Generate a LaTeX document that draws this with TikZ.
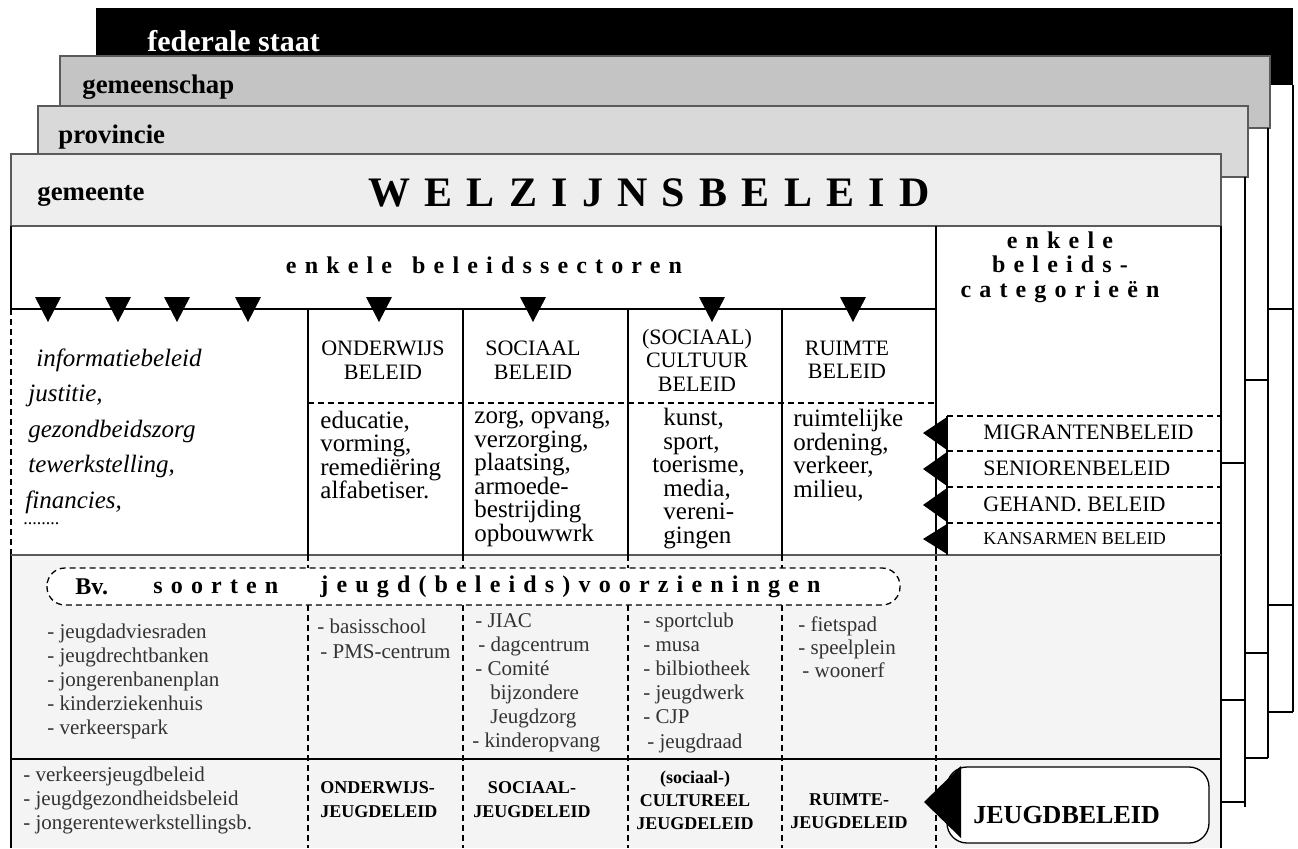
\documentclass[tikz,border=0pt]{standalone}
\usepackage{fontspec}
\setmainfont{Liberation Serif}
\newfontfamily\spatie{Liberation Serif}[LetterSpace=34]
\definecolor{randgrijs}{HTML}{5A5A5A}
\definecolor{gemeenschapgrijs}{HTML}{C4C4C4}
\definecolor{provinciegrijs}{HTML}{D9D9D9}
\definecolor{gemeentegrijs}{HTML}{EEEEEE}
\definecolor{vlakgrijs}{HTML}{F4F4F4}
\definecolor{lijstgrijs}{HTML}{333333}

\begin{document}
\begin{tikzpicture}[x=0.5pt,y=-0.5pt,
		lijn/.style={line width=0.65pt},
		streep/.style={line width=0.65pt,dash pattern=on 3pt off 2pt},
		laag/.style={draw=randgrijs,line width=0.8pt},
		naam/.style={anchor=west,inner sep=0pt,font=\bfseries\fontsize{13.4}{14}\selectfont},
		kop/.style={font=\fontsize{11}{11.75}\selectfont,align=center,inner sep=0pt},
		lijst/.style={font=\fontsize{12.5}{11.75}\selectfont,align=left,anchor=west,inner sep=0pt},
		jlijst/.style={font=\fontsize{10.5}{12}\selectfont,align=left,anchor=west,inner sep=0pt,text=lijstgrijs},
		vet/.style={font=\bfseries\fontsize{9}{12}\selectfont,inner sep=0pt},
		cat/.style={font=\fontsize{11}{12}\selectfont,anchor=west,inner sep=0pt}]
		
		% Vaste grootte van de tekening
		\useasboundingbox (0,0) rectangle (1298,848);
		
		% De lagen: federale staat, gemeenschap, provincie, gemeente
		\fill[black] (96,8) rectangle (1293,85);
		\draw[laag,fill=gemeenschapgrijs] (60,56) rectangle (1270,128);
		\draw[laag,fill=provinciegrijs] (38,106) rectangle (1248,177);
		\draw[laag,fill=gemeentegrijs] (11,154) rectangle (1221,226);
		
		% Achterliggende bladen rechts
		\draw[lijn] (1293,85) -- (1293,712);
		\draw[lijn] (1268,128) -- (1268,758);
		\draw[lijn] (1245,177) -- (1245,807);
		\draw[lijn] (1268,309) -- (1293,309);
		\draw[lijn] (1268,605) -- (1293,605);
		\draw[lijn] (1268,712) -- (1293,712);
		\draw[lijn] (1245,380) -- (1268,380);
		\draw[lijn] (1245,653) -- (1268,653);
		\draw[lijn] (1245,758) -- (1268,758);
		\draw[lijn] (1221,463) -- (1245,463);
		\draw[lijn] (1221,700) -- (1245,700);
		\draw[lijn] (1219,802) -- (1245,802);
		
		% Namen van de lagen
		\node[naam,text=white,font=\bfseries\fontsize{15}{15}\selectfont] (federaal) at (147,41) {federale staat};
		\node[naam] (gemeenschap) at (82,87) {gemeenschap};
		\node[naam] (provincie) at (58,137) {provincie};
		\node[naam] (gemeente) at (37,196) {gemeente};
		\node[font=\spatie\bfseries\fontsize{21}{21}\selectfont,inner sep=0pt] (welzijn) at (649,193) {WELZIJNSBELEID};
		
		% Vlakken van de tabel
		\fill[white] (11,227) rectangle (1221,555);
		\fill[vlakgrijs] (11,555) rectangle (1221,848);
		
		% Randen
		\draw[lijn] (11,226) -- (11,309);
		\draw[streep] (11,309) -- (11,555);
		\draw[lijn] (11,555) -- (11,848);
		\draw[lijn] (1221,226) -- (1221,848);
		\draw[lijn] (11,309) -- (936,309);
		\draw[lijn] (936,226) -- (936,555);
		\draw[streep] (936,555) -- (936,848);
		\draw[line width=0.9pt,draw=randgrijs] (11,555) -- (1221,555);
		\draw[lijn] (11,759) -- (1221,759);
		
		% Kolommen van de sectoren
		\draw[lijn] (308,309) -- (308,555);
		\draw[lijn] (463,309) -- (463,555);
		\draw[lijn] (628,309) -- (628,555);
		\draw[lijn] (782,309) -- (782,555);
		\draw[streep] (308,555) -- (308,848);
		\draw[streep] (463,555) -- (463,848);
		\draw[streep] (628,555) -- (628,848);
		\draw[streep] (782,555) -- (782,848);
		\draw[streep] (308,403) -- (936,403);
		
		% Rijen van de categorieen
		\draw[streep] (947,416) -- (1221,416);
		\draw[streep] (947,451) -- (1221,451);
		\draw[streep] (947,487) -- (1221,487);
		\draw[streep] (947,523) -- (1221,523);
		\draw[lijn] (947,416) -- (947,555);
		
		% Driehoeken naar beneden
		\fill (35,297) -- (61,297) -- (48,322) -- cycle;
		\fill (105,297) -- (131,297) -- (118,322) -- cycle;
		\fill (164,297) -- (190,297) -- (177,322) -- cycle;
		\fill (235,297) -- (261,297) -- (248,322) -- cycle;
		\fill (366,297) -- (392,297) -- (379,322) -- cycle;
		\fill (520,297) -- (546,297) -- (533,322) -- cycle;
		\fill (699,297) -- (725,297) -- (712,322) -- cycle;
		\fill (840,297) -- (866,297) -- (853,322) -- cycle;
		
		% Driehoeken naar links
		\fill (947,417) -- (923,433) -- (947,450) -- cycle;
		\fill (947,452) -- (923,469) -- (947,486) -- cycle;
		\fill (947,488) -- (923,505) -- (947,522) -- cycle;
		\fill (947,524) -- (923,539) -- (947,554) -- cycle;
		
		% Koppen
		\node[font=\spatie\bfseries\fontsize{12}{12}\selectfont,inner sep=0pt] (sectoren) at (484,265) {enkele\hspace{3pt} beleidssectoren};
		\node[font=\spatie\bfseries\fontsize{12}{12.25}\selectfont,align=center,inner sep=0pt] (categorieen) at (1060,267) {enkele\\beleids-\\categorieën};
		
		% Beleidssectoren
		\node[lijst,font=\itshape\fontsize{12.5}{17.75}\selectfont] (overig) at (28,431) {\hspace*{4pt}informatiebeleid\\justitie,\\gezondbeidszorg\\tewerkstelling,\\\hspace*{-1.5pt}financies,};
		\node[anchor=west,inner sep=0pt,font=\fontsize{9}{9}\selectfont] (puntjes) at (23,524) {........};
		\node[kop] (onderwijs) at (383,360) {ONDERWIJS\\BELEID};
		\node[kop] (sociaal) at (533,360) {SOCIAAL\\BELEID};
		\node[kop] (cultuur) at (697,360) {(SOCIAAL)\\CULTUUR\\BELEID};
		\node[kop] (ruimte) at (847,360) {RUIMTE\\BELEID};
		\node[lijst] (onderwijsinhoud) at (320,455) {educatie,\\vorming,\\remediëring\\alfabetiser.};
		\node[lijst] (sociaalinhoud) at (474,478.5) {zorg, opvang,\\verzorging,\\plaatsing,\\armoede-\\bestrijding\\opbouwwrk};
		\node[lijst] (cultuurinhoud) at (663,478.5) {kunst,\\sport,\\\hspace*{-5.5pt}toerisme,\\media,\\vereni-\\gingen};
		\node[lijst] (ruimteinhoud) at (793,455) {ruimtelijke\\ordening,\\verkeer,\\milieu,};
		
		% Beleidscategorieen
		\node[cat] (migranten) at (983,432) {MIGRANTENBELEID};
		\node[cat] (senioren) at (983,468) {SENIORENBELEID};
		\node[cat] (gehandicapten) at (983,504) {GEHAND. BELEID};
		\node[cat,font=\fontsize{9}{9}\selectfont] (kansarmen) at (983,539) {KANSARMEN BELEID};
		
		% Voorzieningen
		\draw[streep,fill=white,rounded corners=9pt] (47,568) rectangle (900,605);
		\node[anchor=west,inner sep=0pt,font=\bfseries\fontsize{12}{12}\selectfont] (bv) at (75,587) {Bv.};
		\node[anchor=west,inner sep=0pt,font=\spatie\bfseries\fontsize{12}{12}\selectfont] (soorten) at (153,587) {soorten};
		\node[anchor=west,inner sep=0pt,font=\spatie\bfseries\fontsize{12}{12}\selectfont] (voorzieningen) at (320,587) {jeugd(beleids)voorzieningen};
		\node[jlijst,font=\fontsize{10.5}{11.9}\selectfont] (jeugdlijst) at (47,681.5) {- jeugdadviesraden\\- jeugdrechtbanken\\- jongerenbanenplan\\- kinderziekenhuis\\- verkeerspark};
		\node[jlijst,font=\fontsize{10.5}{12.5}\selectfont] (school) at (317,638.5) {- basisschool\\\hspace*{1.5pt}- PMS-centrum};
		\node[jlijst] (welzijnlijst) at (472,683) {\hspace*{1.5pt}- JIAC\\\hspace*{3pt}- dagcentrum\\\hspace*{1.5pt}- Comité\\\hspace*{9pt}bijzondere\\\hspace*{9pt}Jeugdzorg\\- kinderopvang};
		\node[jlijst,font=\fontsize{10.5}{12.1}\selectfont] (sportlijst) at (643,682.5) {- sportclub\\- musa\\- bilbiotheek\\- jeugdwerk\\- CJP\\\hspace*{2pt}- jeugdraad};
		\node[jlijst,font=\fontsize{10.5}{11.5}\selectfont] (fietslijst) at (798,647) {- fietspad\\- speelplein\\\hspace*{2pt}- woonerf};
		
		% Jeugdbeleid
		\node[jlijst] (beleidslijst) at (23,800) {- verkeersjeugdbeleid\\- jeugdgezondheidsbeleid\\- jongerentewerkstellingsb.};
		\node[vet,anchor=west,align=left] (onderwijsjeugd) at (320,800) {ONDERWIJS-\\JEUGDELEID};
		\node[vet,align=center] (sociaaljeugd) at (532,800) {SOCIAAL-\\JEUGDELEID};
		\node[vet,align=center,font=\bfseries\fontsize{9}{11.5}\selectfont] (cultuurjeugd) at (695,800) {(sociaal-)\\CULTUREEL\\JEUGDELEID};
		\node[vet,align=center,font=\bfseries\fontsize{9}{11.5}\selectfont] (ruimtejeugd) at (849,811.5) {RUIMTE-\\JEUGDELEID};
		\draw[lijn,fill=white,rounded corners=10pt] (947,767) rectangle (1209,843);
		\fill (961,766) -- (924,802) -- (961,838) -- cycle;
		\node[anchor=west,inner sep=0pt,font=\bfseries\fontsize{13}{13}\selectfont] (jeugdbeleid) at (973,815) {JEUGDBELEID};
		
	\end{tikzpicture}
\end{document}
